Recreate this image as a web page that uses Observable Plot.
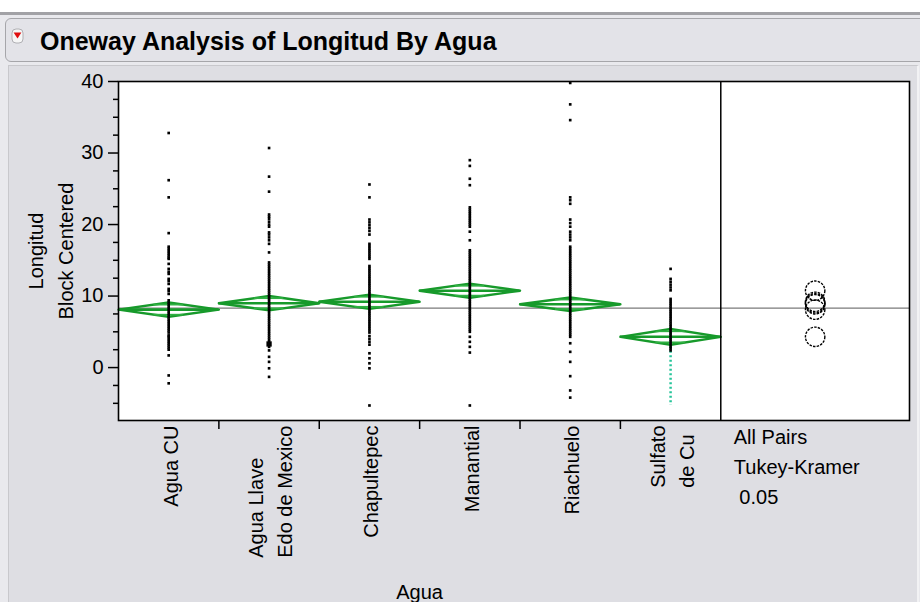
<!DOCTYPE html>
<html>
<head>
<meta charset="utf-8">
<script src="https://cdn.jsdelivr.net/npm/d3@7"></script>
<script src="https://cdn.jsdelivr.net/npm/@observablehq/plot@0.6"></script>
<style>
html, body { margin: 0; padding: 0; }
body { width: 920px; height: 602px; overflow: hidden; position: relative; background: #e9e9ed; font-family: "Liberation Sans", Arial, sans-serif; }
#topstrip { position: absolute; left: 0; top: 0; width: 920px; height: 12px; background: #ffffff; }
#sep { position: absolute; left: 0; top: 12px; width: 920px; height: 3px; background: #a2a2a6; }
#titlebar { position: absolute; left: 5px; top: 18px; width: 940px; height: 44px; box-sizing: border-box; border: 1px solid #a6a6aa; border-radius: 6px; background: #e3e3e8; }
#header { position: absolute; left: 0; top: 0; }
#panel { position: absolute; left: 8px; top: 65px; width: 908px; height: 540px; background: #dedee3; border-left: 1px solid #c8c8cc; border-right: 2px solid #f2f2f4; border-top: 1px solid #c8c8cc; }
#chart { position: absolute; left: 0; top: 62px; }
</style>
</head>
<body>
<div id="topstrip"></div>
<div id="sep"></div>
<div id="titlebar"></div>
<div id="panel"></div>
<svg id="header" width="920" height="64">
  <rect x="12" y="29" width="11" height="14" rx="4" fill="#f6f6f6" stroke="#b0b0b4"/>
  <path d="M13.6,32.5 L21.4,32.5 L17.5,38.5 Z" fill="#e01010"/>
  <text id="titletext" x="40" y="49.5" font-family="Liberation Sans, Arial, sans-serif" font-weight="bold" font-size="25" fill="#000"></text>
</svg>
<div id="chart"></div>
<script>
// ---------- data ----------
const chartTitle = "Oneway Analysis of Longitud By Agua";
const categoryLabels = [
  ["Agua CU"],
  ["Agua Llave", "Edo de Mexico"],
  ["Chapultepec"],
  ["Manantial"],
  ["Riachuelo"],
  ["Sulfato", "de Cu"]
];
const aguaCU = [32.8, 26.2, 23.8, 18.8, 16.9, 16.6, 16.3, 16.0, 15.7, 15.4, 15.2, 14.5, 13.8, 13.4, 13.1, 12.4, 12.1, 11.7, 11.0, 10.7, 10.3, 9.4, 9.1, 8.8, 8.5, 8.2, 7.9, 7.6, 7.3, 7.0, 6.7, 6.4, 6.1, 5.8, 5.5, 5.2, 4.9, 4.5, 4.3, 4.0, 3.7, 3.4, 3.1, 2.8, 2.5, 1.7, -1.1, -2.2];
const aguaLlave = [30.7, 26.7, 24.6, 21.4, 21.1, 20.8, 20.4, 20.0, 19.7, 18.9, 18.6, 18.2, 17.8, 17.3, 16.1, 14.7, 14.4, 14.1, 13.8, 13.5, 13.2, 12.9, 12.6, 12.3, 12.0, 11.7, 11.4, 11.1, 10.8, 10.5, 10.2, 9.9, 9.6, 9.3, 9.0, 8.7, 8.4, 8.1, 7.8, 7.5, 7.2, 6.9, 6.6, 6.3, 6.0, 5.7, 5.4, 5.1, 4.8, 4.5, 4.2, 3.9, 3.6, 2.9, 2.4, 1.5, 0.8, -0.1, -1.3];
const aguaLlaveLarge = [3.3];
const chapultepec = [25.6, 23.8, 20.7, 20.3, 19.9, 19.5, 19.1, 18.6, 17.3, 17.0, 16.7, 16.4, 16.1, 15.8, 15.5, 15.2, 14.2, 13.9, 13.6, 13.3, 13.0, 12.7, 12.4, 12.1, 11.8, 11.5, 11.2, 10.9, 10.6, 10.3, 10.0, 9.7, 9.4, 9.1, 8.8, 8.5, 8.2, 7.9, 7.6, 7.3, 7.0, 6.7, 6.4, 6.1, 5.8, 5.5, 5.2, 4.9, 4.4, 4.0, 3.6, 3.2, 2.0, 1.3, 0.6, -0.1, -5.3];
const manantial = [29.0, 28.2, 26.4, 25.5, 22.4, 22.1, 21.8, 21.5, 21.2, 20.9, 20.6, 20.3, 20.0, 19.7, 19.0, 17.8, 16.4, 16.1, 15.8, 15.5, 15.2, 14.9, 14.6, 14.3, 14.0, 13.7, 13.4, 13.1, 12.8, 12.5, 12.2, 11.9, 11.6, 11.3, 11.0, 10.7, 10.4, 10.1, 9.8, 9.5, 9.2, 8.9, 8.6, 8.3, 8.0, 7.7, 7.4, 7.1, 6.8, 6.5, 6.2, 5.9, 5.6, 5.3, 5.0, 4.3, 3.6, 2.9, 2.1, -5.3];
const riachuelo = [39.8, 36.8, 34.6, 23.8, 23.4, 22.9, 20.7, 20.2, 19.7, 19.0, 18.6, 18.2, 17.8, 16.9, 16.6, 16.3, 16.0, 15.7, 15.4, 15.1, 14.8, 14.5, 14.2, 13.9, 13.6, 13.3, 13.0, 12.7, 12.4, 12.1, 11.8, 11.5, 11.2, 10.9, 10.6, 10.3, 10.0, 9.7, 9.4, 9.1, 8.8, 8.5, 8.2, 7.9, 7.6, 7.3, 7.0, 6.7, 6.4, 6.1, 5.8, 5.5, 5.2, 4.9, 4.6, 4.3, 3.4, 2.2, 0.8, -1.2, -3.2, -4.2];
const sulfatoCu = [13.8, 12.4, 12.0, 11.6, 11.2, 10.8, 9.6, 9.3, 9.0, 8.7, 8.4, 8.1, 7.8, 7.5, 7.2, 6.9, 6.6, 6.3, 6.0, 5.7, 5.4, 5.1, 4.8, 4.5, 4.2, 3.9, 3.6, 3.3, 3.0, 2.7, 2.4];
const sulfatoTealRange = [4.8, -5.3];
const groupMeans = [8.1, 9.0, 9.2, 10.75, 8.85, 4.3];
const groupCI = [1.0, 1.0, 1.0, 0.98, 0.94, 1.1];
const grandMean = 8.32;
const yMajorTicks = [0, 10, 20, 30, 40];
const yMinorTicks = [-5, -2.5, 2.5, 5, 7.5, 12.5, 15, 17.5, 22.5, 25, 27.5, 32.5, 35, 37.5];
const yDomain = [-7.4, 40];
const yLabelLines = ["Longitud", "Block Centered"];
const xLabel = "Agua";
const cmpLabels = ["All Pairs", "Tukey-Kramer", "\u00a00.05"];

// ---------- build ----------
document.getElementById("titletext").textContent = chartTitle;

const groups = [aguaCU, aguaLlave, chapultepec, manantial, riachuelo, sulfatoCu];
const nCat = categoryLabels.length;
const cmpPanelWidth = 1.88; // comparison panel width, in category-band units
const xEnd = nCat + cmpPanelWidth;
const cmpCenter = nCat + cmpPanelWidth / 2;
const sulfatoPos = groups.indexOf(sulfatoCu) + 0.5;
const llavePos = groups.indexOf(aguaLlave) + 0.5;

const points = groups.flatMap((vals, i) => vals.map(v => ({pos: i + 0.5, v})));
const bigPoints = aguaLlaveLarge.map(v => ({pos: llavePos, v}));
const diamonds = groupMeans.flatMap((m, i) => {
  const c = groupCI[i];
  return [[i, m], [i + 0.5, m + c], [i + 1, m], [i + 0.5, m - c], [i, m]].map(([x, y]) => ({g: i, x, y}));
});
const meanLines = groupMeans.map((m, i) => ({x1: i, x2: i + 1, y: m}));
const overlap = groupMeans.flatMap((m, i) => {
  const d = groupCI[i] / Math.SQRT2;
  const hw = 0.5 * (1 - 1 / Math.SQRT2);
  return [m + d, m - d].map(y => ({x1: i + 0.5 - hw, x2: i + 0.5 + hw, y}));
});
const green = "#179a2b";

const ctx = document.createElement("canvas").getContext("2d");
ctx.font = "20px 'Liberation Sans'";
const labelMarks = categoryLabels.flatMap((lines, i) => {
  const widths = lines.map(l => ctx.measureText(l).width);
  const maxW = Math.max(...widths);
  return lines.map((line, j) => Plot.text([{pos: i + 0.5, line}], {
    x: "pos", text: "line", frameAnchor: "bottom", rotate: -90,
    textAnchor: "end", lineAnchor: "middle", fontSize: 20, fill: "black",
    dx: 2.5 + (j - (lines.length - 1) / 2) * 29,
    dy: 5 + (maxW - widths[j])
  }));
});

const chart = Plot.plot({
  width: 920,
  height: 540,
  marginLeft: 118,
  marginRight: 11,
  marginTop: 19,
  marginBottom: 182,
  style: {background: "transparent", fontFamily: "Liberation Sans, Arial, sans-serif", fontSize: "20px", color: "black"},
  x: {type: "linear", domain: [0, xEnd], axis: null},
  y: {domain: yDomain},
  marks: [
    Plot.frame({fill: "white", stroke: "none"}),
    Plot.ruleY([grandMean], {stroke: "#7a7a7a", strokeWidth: 1.2}),
    Plot.line(diamonds, {x: "x", y: "y", z: "g", stroke: green, strokeWidth: 2.4}),
    Plot.ruleY(overlap, {x1: "x1", x2: "x2", y: "y", stroke: "#2fb042", strokeWidth: 1.8}),
    Plot.ruleY(meanLines, {x1: "x1", x2: "x2", y: "y", stroke: green, strokeWidth: 2.6}),
    Plot.ruleX([sulfatoPos], {y1: sulfatoTealRange[0], y2: sulfatoTealRange[1], stroke: "#27c49a", strokeWidth: 2.5, strokeDasharray: "2,2.5"}),
    Plot.dot(points, {x: "pos", y: "v", symbol: "square", r: 1.5, fill: "black", stroke: "none"}),
    Plot.dot(bigPoints, {x: "pos", y: "v", symbol: "square", r: 3, fill: "black", stroke: "none"}),
    Plot.dot(groupMeans, {x: () => cmpCenter, y: d => d, r: 9.7, fill: "none", stroke: "black", strokeWidth: 1.4, strokeDasharray: "2.5,1.2"}),
    Plot.ruleX([nCat], {stroke: "black", strokeWidth: 1.5}),
    Plot.frame({stroke: "black", strokeWidth: 1.6}),
    Plot.axisY(yMajorTicks, {tickSize: 10, tickPadding: 5, label: null, fontSize: 20, strokeWidth: 1.5}),
    Plot.axisY(yMinorTicks, {tickSize: 5, tickFormat: () => "", label: null, strokeWidth: 1.5}),
    Plot.axisX(d3.range(1, nCat), {anchor: "bottom", tickSize: 9, tickFormat: () => "", label: null, strokeWidth: 1.5}),
    ...labelMarks,
    Plot.text([yLabelLines.join("\n")], {frameAnchor: "left", dx: -70.5, rotate: -90, textAnchor: "middle", lineAnchor: "middle", lineHeight: 1.5, fontSize: 20, fill: "black"}),
    Plot.text([xLabel], {x: () => nCat / 2, frameAnchor: "bottom", dy: 172, textAnchor: "middle", lineAnchor: "middle", fontSize: 20, fill: "black"}),
    Plot.text([cmpLabels.join("\n")], {x: () => nCat, frameAnchor: "bottom", dx: 13, dy: 2, textAnchor: "start", lineAnchor: "top", lineHeight: 1.5, fontSize: 20, fill: "black"})
  ]
});
document.getElementById("chart").appendChild(chart);
</script>
</body>
</html>
